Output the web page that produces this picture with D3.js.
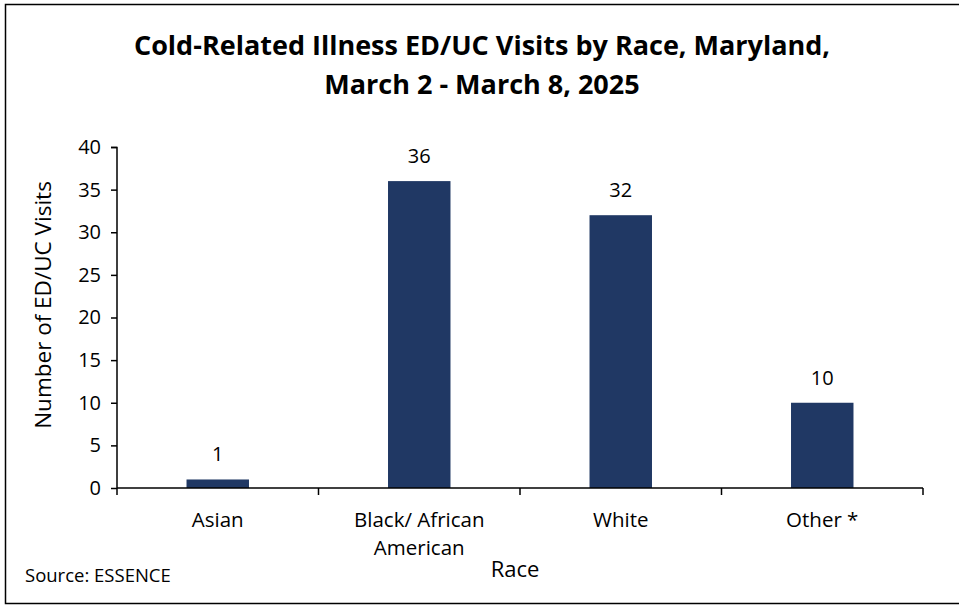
<!DOCTYPE html>
<html>
<head>
<meta charset="utf-8">
<script src="https://cdn.jsdelivr.net/npm/d3@7"></script>
<style>
  body { margin: 0; background: #fff; }
  text { font-family: "Open Sans", sans-serif; fill: #000; }
</style>
</head>
<body>
<script>
// categories and counts
var races = ['Asian', 'Black/ African American', 'White', 'Other *'];
var visits = [1, 36, 32, 10];
var yTicks = [0, 5, 10, 15, 20, 25, 30, 35, 40];
var titleLines = ['Cold-Related Illness ED/UC Visits by Race, Maryland,', 'March 2 - March 8, 2025'];

var W = 959, H = 606;
var margin = {top: 147, right: 36, bottom: 118, left: 117};
var w = W - margin.left - margin.right,
    h = H - margin.top - margin.bottom;

var svg = d3.select('body').append('svg')
    .attr('width', W)
    .attr('height', H);

// outer frame
svg.append('rect')
  .attr('x', 5.5).attr('y', 4.5)
  .attr('width', 970).attr('height', 599)
  .attr('fill', 'none')
  .attr('stroke', '#000')
  .attr('stroke-width', 1.5);

svg.selectAll('.title')
  .data(titleLines)
  .enter()
  .append('text')
  .attr('class', 'title')
  .attr('x', 482)
  .attr('y', function (d, i) { return 55 + i * 39; })
  .attr('text-anchor', 'middle')
  .attr('font-family', 'Lato, sans-serif')
  .attr('font-size', '27px')
  .attr('font-weight', 'bold')
  .text(function (d) { return d; });

var g = svg.append('g')
    .attr('transform', 'translate(' + margin.left + ',' + margin.top + ')');

var xScale = d3.scaleBand()
    .domain(races)
    .range([0, w])
    .paddingInner(0.69)
    .paddingOuter(0.345);

var yScale = d3.scaleLinear()
    .domain([0, 40])
    .range([h, 0]);

g.selectAll('rect')
  .data(visits)
  .enter()
  .append('rect')
  .attr('x', function (d, i) { return xScale(races[i]); })
  .attr('y', function (d) { return yScale(d); })
  .attr('width', xScale.bandwidth())
  .attr('height', function (d) { return h - yScale(d); })
  .attr('fill', '#203864');

g.selectAll('.val')
  .data(visits)
  .enter()
  .append('text')
  .attr('class', 'val')
  .attr('x', function (d, i) { return xScale(races[i]) + xScale.bandwidth() / 2; })
  .attr('y', function (d) { return yScale(d) - 18; })
  .attr('text-anchor', 'middle')
  .attr('font-size', '20px')
  .text(function (d) { return d; });

// y axis
var yAxis = d3.axisLeft(yScale).tickValues(yTicks).tickSize(6).tickPadding(10);
var ya = g.append('g').call(yAxis);
ya.select('.domain').attr('stroke', '#000').attr('stroke-width', 1.5)
  .attr('d', 'M-6,0.5H0V' + h);
ya.selectAll('line').attr('stroke', '#000').attr('stroke-width', 1.5);
ya.selectAll('text').attr('font-size', '20px').attr('font-family', '"Open Sans", sans-serif').attr('fill', '#000');

// x axis with ticks at category boundaries
var xa = g.append('g').attr('transform', 'translate(0,' + h + ')');
xa.append('line')
  .attr('x1', 0).attr('x2', w)
  .attr('stroke', '#000').attr('stroke-width', 1.5);
var step = w / races.length;
xa.selectAll('.tk')
  .data(d3.range(races.length + 1))
  .enter()
  .append('line')
  .attr('class', 'tk')
  .attr('x1', function (d) { return d * step; })
  .attr('x2', function (d) { return d * step; })
  .attr('y1', 0).attr('y2', 7)
  .attr('stroke', '#000').attr('stroke-width', 1.5);

var lab = xa.selectAll('.cat')
  .data(races)
  .enter()
  .append('text')
  .attr('class', 'cat')
  .attr('text-anchor', 'middle')
  .attr('font-size', '20.5px')
  .attr('x', function (d) { return xScale(d) + xScale.bandwidth() / 2; })
  .attr('y', 39);
lab.each(function (d) {
  var parts = d === 'Black/ African American' ? ['Black/ African', 'American'] : [d];
  var t = d3.select(this);
  parts.forEach(function (p, i) {
    t.append('tspan')
      .attr('x', t.attr('x'))
      .attr('dy', i === 0 ? 0 : 28)
      .text(p);
  });
});

// axis titles
svg.append('text')
  .attr('x', 515)
  .attr('y', 577)
  .attr('text-anchor', 'middle')
  .attr('font-size', '22px')
  .text('Race');

svg.append('text')
  .attr('transform', 'translate(51,305) rotate(-90)')
  .attr('text-anchor', 'middle')
  .attr('font-size', '22.5px')
  .text('Number of ED/UC Visits');

svg.append('text')
  .attr('x', 25)
  .attr('y', 582)
  .attr('font-size', '18.5px')
  .text('Source: ESSENCE');
</script>
</body>
</html>
